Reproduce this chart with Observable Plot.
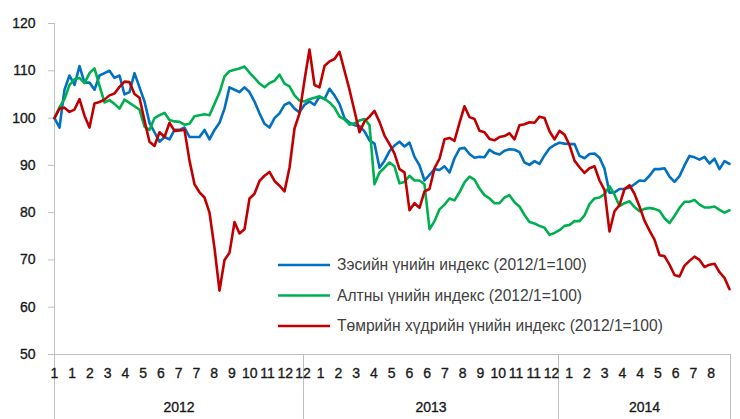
<!DOCTYPE html>
<html><head><meta charset="utf-8">
<script src="https://cdn.jsdelivr.net/npm/d3@7"></script>
<script src="https://cdn.jsdelivr.net/npm/@observablehq/plot@0.6"></script>
<style>body{margin:0;background:#fff} svg{display:block}</style>
</head><body><div id="chart"></div>
<script>
// Category axis labels (month of each labelled trading day) and years
const monthLabels = ["1","1","2","3","4","5","6","7","7","8","9","10","11","12","12",
  "1","2","3","4","5","6","6","7","8","9","10","11","11","12",
  "1","2","3","4","4","5","6","7","8"];
const years = ["2012","2013","2014"];
const yearDays = [249, 255, 172];   // trading days per year shown
const names = ["Зэсийн үнийн индекс (2012/1=100)", "Алтны үнийн индекс (2012/1=100)", "Төмрийн хүдрийн үнийн индекс (2012/1=100)"];
const colors = ["#0070C0", "#00B050", "#C00000"];
const yTicks = [50, 60, 70, 80, 90, 100, 110, 120];

// Weekly samples (every 5 trading days)
const copper = [100,98,106,109,107,111,107.5,107.5,106,109,109.5,110,108.5,109,105,105.5,109.5,106.5,103.5,99,
  97,95,96,95.5,97.5,97.5,98,96,96,96,97.5,95.5,97.5,99,102,106.5,106,105.5,106.5,105.5,
  103.5,101,98.8,98,100,101,102.8,103.3,102,101.2,102.8,103.5,102.8,104.5,104,106.2,104.8,103,100,99,
  98.5,98.3,97.2,95.3,94.6,89.5,91,93,94.2,95,94,94.8,91.8,90,86.8,88,89.2,89,89.8,88.5,
  91.5,93.5,93.7,92.4,91.6,91.8,91.7,93.3,92.6,92.3,93.1,93.4,93.3,92.8,90.6,90.1,90.9,90.3,92.1,93.6,
  94.3,94.8,94.6,94.5,94.5,92,91.5,92.4,92.5,91.6,89.3,84.2,84.3,85,85,85.3,86,86.8,86.7,87.8,
  89.2,89.2,89.4,87.6,86.5,87.7,90,92,91.7,91.2,91.8,90.4,91.4,89.2,90.9,90.3];
const gold = [100,102.3,104,107,108.2,108.5,107.4,109.5,110.5,106.8,103.3,103.8,103,102,103.9,103.2,102.5,101.8,98.2,97.5,
  100,100.6,101.1,99.6,99.3,99.2,98.6,98.8,100.4,100.6,100.8,100.6,103,105.4,108.8,109.9,110.2,110.5,110.9,109.6,
  108.5,107.3,106.5,107.4,107.9,109.2,107.3,106.7,104.8,103.7,103.5,104,104.3,104.6,104.1,103.3,102.2,100.3,99.7,98.6,
  98.9,99.5,99.8,98.5,86,88.5,89.5,90.6,89.8,86.2,86.5,87.8,86.8,86.8,86,76.5,78.2,80.7,81.7,83,
  82.6,84.3,86.4,87.6,87,85.1,83.7,83,82,82,83.2,83.7,82.2,81.3,79.5,78,77.7,77.2,76.8,75.3,
  75.7,76.3,77.2,77.4,78.2,78.2,79.4,81.8,83,83.2,83.9,85.6,83.8,81.4,82,82.4,81.2,80.3,80.8,81,
  80.8,80.4,78.8,77.8,79.3,81,82.3,82.3,82.7,81.7,81.1,81.1,81.3,80.6,80,80.5];
const ironOre = [100,102,102.2,101.3,101.8,104,100.5,98,103.1,103.4,103.9,104.8,105.2,106.6,107.7,107.6,105.1,104.3,99.5,95,
  94.1,97,96,99,97.3,97.4,97.5,91,86,84.3,83.2,80,72.5,63.5,70,71.5,78,75.6,76.5,83,
  84,86.7,87.8,88.6,86.7,85.7,84.5,89.5,97.8,101,108,114.5,107,106.5,111,112,112.5,114,110,106,
  101.5,97,99.3,100.3,101.5,99.2,96.3,94.5,92.5,89.2,88.5,80.5,82,81,84.5,85,89.4,91.4,95.5,95.8,
  95.2,99,102.5,100.2,99.8,97.3,97,95.6,95.3,96,96.2,96.8,95.5,98.5,98.7,99.1,99,100.3,100,97.2,
  95.5,97.3,96.5,94.3,91,89.6,88.4,89.4,89.8,86.8,84.8,76,80.3,81.6,85,85.8,84,81.3,78.3,76.2,
  74.3,71,70.8,69,66.8,66.5,68.8,69.8,70.7,70,68.5,69,69.2,67.4,66.2,63.8];

const series = [copper, gold, ironOre];
const sampleStep = 5;       // trading days between samples
const labelStep = 17.75;    // trading days between category labels

const rows = [];
names.forEach((n, s) => series[s].forEach((v, i) => rows.push({series: n, x: i * sampleStep, v})));
const bounds = [0];
yearDays.forEach(d => bounds.push(bounds[bounds.length - 1] + d));
const total = bounds[bounds.length - 1];
const tickRows = monthLabels.map((m, k) => ({x: k * labelStep, m}));
const yearRows = years.map((y, i) => ({x: (bounds[i] + bounds[i + 1]) / 2, y}));

const font = "'Liberation Sans', Arial, sans-serif";
const ink = "#1a1a1a";
const heavy = {fill: ink, stroke: ink, strokeWidth: 0.35};
const svg = Plot.plot({
  width: 740, height: 419,
  marginTop: 23, marginBottom: 65, marginLeft: 54, marginRight: 10,
  style: {fontFamily: font, background: "#fff", overflow: "visible"},
  x: {domain: [0, total], axis: null},
  y: {domain: [50, 120], axis: null},
  color: {domain: names, range: colors},
  marks: [
    Plot.ruleY([50], {stroke: "#bfbfbf"}),
    Plot.ruleX([0], {stroke: "#bfbfbf"}),
    Plot.ruleX(bounds, {stroke: "#bfbfbf", insetTop: 331, insetBottom: -65}),
    Plot.tickY(yTicks, {y: d => d, stroke: "#bfbfbf", insetLeft: -6, insetRight: 676}),
    Plot.text(yTicks, {y: d => d, text: d => String(d), frameAnchor: "left", textAnchor: "end", dx: -19, fontSize: 14, ...heavy}),
    Plot.text(tickRows, {x: "x", text: "m", frameAnchor: "bottom", dy: 23, fontSize: 14, ...heavy}),
    Plot.text(yearRows, {x: "x", text: "y", frameAnchor: "bottom", dy: 57, fontSize: 14, ...heavy}),
    Plot.line(rows, {x: "x", y: "v", stroke: "series", strokeWidth: 2.6})
  ]
});

// Legend inside the plot area
const g = d3.select(svg).append("g").attr("text-anchor", "start");
names.forEach((n, i) => {
  const yy = 265 + i * 30.5;
  g.append("line").attr("x1", 278).attr("x2", 330).attr("y1", yy).attr("y2", yy)
    .attr("stroke", colors[i]).attr("stroke-width", 2.6);
  g.append("text").attr("x", 337).attr("y", yy).attr("dy", "0.35em")
    .attr("font-size", 15.6).attr("fill", "#404040").attr("font-family", font).text(n);
});
document.getElementById("chart").appendChild(svg);
</script>
</body></html>
